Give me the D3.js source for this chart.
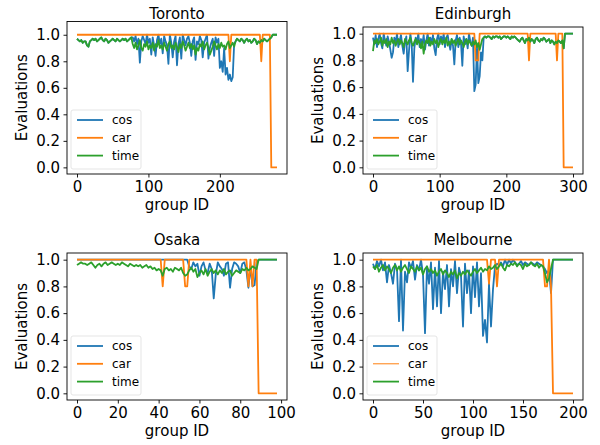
<!DOCTYPE html>
<html>
<head>
<meta charset="utf-8">
<script src="https://cdn.jsdelivr.net/npm/d3@7"></script>
<style>
  body { margin: 0; background: #fff; }
  svg { font-family: 'DejaVu Sans', sans-serif; }
</style>
</head>
<body>
<svg id="chart" width="600" height="445"></svg>
<script>
// ---------- data (one value per group ID, sampled every `step` ids) ----------

const torontoStep = 2;
const torontoTicks = [0, 100, 200];
const torontoTime = [
  0.97,0.96,0.95,0.96,0.94,0.95,0.95,0.92,0.91,0.95, 0.96,0.97,0.96,0.97,0.95,0.96,0.97,0.98,0.96,0.95,
  0.97,0.96,0.94,0.95,0.96,0.97,0.96,0.95,0.97,0.96, 0.95,0.96,0.97,0.96,0.97,0.95,0.96,0.97,0.98,
  0.93,0.90,0.94,0.89,0.92,0.96,0.90,0.88,0.93,0.91, 0.95,0.89,0.92,0.90,0.94,0.88,0.93,0.91,0.96,0.90,
  0.92,0.89,0.94,0.91,0.88,0.93,0.95,0.90,0.92,0.89, 0.94,0.91,0.87,0.93,0.90,0.95,0.92,0.88,0.91,0.94,
  0.90,0.93,0.89,0.92,0.85,0.90,0.88,0.93,0.91,0.95, 0.89,0.92,0.94,0.90,0.85,0.88,0.91,0.95,0.92,0.89,
  0.93,0.90,0.94,0.91,0.92,0.89,0.93,0.95,0.90,0.92, 0.94,0.91,
  0.95,0.97,0.96,0.95,0.97,0.96,0.94,0.96,0.97,0.95, 0.96,0.94,0.95,0.97,0.96,0.93,0.95,0.94,0.96,0.95,
  0.97,0.96,0.95,0.96,0.97,0.98,
  1,1,1,1
];
const torontoCos = [
  0.97,0.96,0.95,0.96,0.94,0.95,0.95,0.92,0.91,0.95, 0.96,0.97,0.96,0.97,0.95,0.96,0.97,0.98,0.96,0.95,
  0.97,0.96,0.94,0.95,0.96,0.97,0.96,0.95,0.97,0.96, 0.95,0.96,0.97,0.96,0.97,0.95,0.96,0.97,0.98,
  0.98,0.95,0.99,0.93,0.97,0.79,0.95,0.99,0.96,0.93, 1.00,0.94,0.97,0.85,0.98,0.92,0.84,0.96,1.00,0.93,
  0.97,0.86,0.99,0.95,0.92,0.78,1.00,0.94,0.83,0.95, 0.99,0.77,0.93,0.98,0.82,1.00,0.96,0.92,0.97,0.99,
  0.94,0.84,0.95,0.98,0.81,0.95,0.93,0.99,0.96,0.83, 0.94,0.97,1.00,0.82,0.90,0.94,0.97,0.84,0.98,0.94,
  0.97,0.75,0.80,0.72,0.90,0.70,0.75,0.66,0.70,0.65, 0.68,0.93,
  0.95,0.97,0.96,0.95,0.97,0.96,0.94,0.96,0.97,0.95, 0.96,0.94,0.95,0.97,0.96,0.93,0.95,0.94,0.96,0.95,
  0.97,0.96,0.95,0.96,0.97,0.98,
  1,1,1,1
];
const torontoCar = [
  1,1,1,1,1,1,1,1,1,1, 1,1,1,1,1,1,1,1,1,1,
  1,1,1,1,1,1,1,1,1,1, 1,1,1,1,1,1,1,1,1,1,
  1,1,1,1,1,1,1,1,1,1, 1,1,1,1,1,1,1,1,1,1,
  1,1,1,1,1,1,1,1,1,1, 1,1,1,1,1,1,1,1,1,1,
  1,1,1,1,1,1,1,1,1,1, 1,1,1,1,1,1,1,1,1,1,
  1,1,1,1,1,1,1, 0.8,
  1,1,1,1,1,1,1,1,1,1, 1,1,1,1,1,1,1,1,1,1, 1, 0.8,
  1,1,1,1,1,1, 0,0,0,0,0
];

const edinburghStep = 2;
const edinburghTicks = [0, 100, 200, 300];
const edinburghTime = [
  0.87,0.95,0.93,0.96,0.92,0.94,0.97,0.91,0.95,0.93, 0.96,0.90,0.94,0.92,0.97,0.93,0.95,0.91,0.94,0.96,
  0.92,0.95,0.93,0.90,0.96,0.94,0.92,0.95,0.97,0.93, 0.91,0.94,0.96,0.92,0.95,0.93,0.89,0.94,0.85,0.92,
  0.95,0.93,0.97,0.91,0.94,0.92,0.96,0.93,0.95,0.90, 0.94,0.96,0.92,0.95,0.93,0.97,0.91,0.94,0.92,0.96,
  0.93,0.95,0.91,0.94,0.96,0.92,0.95,0.93,0.90,0.94, 0.96,0.92,0.95,0.93,0.91,0.94,0.92,0.95,0.90,0.93,
  0.88,0.92,0.96,
  0.97,0.98,0.97,0.98,0.98,0.97,0.96,0.98,0.97,0.98, 0.98,0.97,0.98,0.96,0.97,0.98,0.98,0.97,0.98,0.97,
  0.96,0.98,0.97,0.98,0.97,
  0.96,0.95,0.94,0.96,0.97,0.95,0.93,0.96,0.95,0.97, 0.94,0.96,0.95,0.93,0.96,0.97,0.95,0.94,0.96,0.95,
  0.97,0.96,0.94,0.95,0.96,0.93,0.95,0.94,0.92,0.94, 0.93,0.95,0.94,0.93,0.95,
  0.89,
  1,1,1,1,1,1,1
];
const edinburghCos = [
  0.97,0.92,0.99,0.90,0.96,1.00,0.93,0.89,1.00,0.95, 0.91,0.98,0.94,0.88,0.82,0.86,0.97,0.93,1.00,0.90,
  0.95,0.99,0.91,0.85,0.94,0.98,0.72,0.87,1.00,0.93, 0.64,0.89,0.97,0.94,1.00,0.90,0.96,0.92,0.99,0.88,
  0.95,1.00,0.91,0.97,0.93,0.99,0.89,0.84,0.96,1.00, 0.92,0.98,0.94,1.00,0.90,0.97,0.99,0.93,0.88,0.96,
  0.91,0.77,0.95,0.99,0.90,0.97,0.93,0.76,0.98,0.92, 0.96,0.89,1.00,0.94,0.91,0.97,0.57,0.62,0.90,0.63,
  0.68,0.86,0.80,
  0.97,0.98,0.97,0.98,0.98,0.97,0.96,0.98,0.97,0.98, 0.98,0.97,0.98,0.96,0.97,0.98,0.98,0.97,0.98,0.97,
  0.96,0.98,0.97,0.98,0.97,
  0.96,0.95,0.94,0.96,0.97,0.95,0.93,0.96,0.95,0.97, 0.94,0.96,0.95,0.93,0.96,0.97,0.95,0.94,0.96,0.95,
  0.97,0.96,0.94,0.95,0.96,0.93,0.95,0.94,0.92,0.94, 0.93,0.95,0.94,0.93,0.95,
  0.89,
  1,1,1,1,1,1,1
];
const edinburghCar = [
  1,1,1,1,1,1,1,1,1,1, 1,1,1,1,1,1,1,1,1,1,
  1,1,1,1,1,1,1,1,1,1, 1,1,1,1,1,1,1,1,1,1,
  1,1,1,1,1,1,1,1,1,1, 1,1,1,1,1,1,1,1,1,1,
  1,1,1,1,1,1,1,1,1,1, 1,1,1,1,1,1,1, 0.8,0.8,0.8,
  1,1,1,1,1,1,1,1,1,1, 1,1,1,1,1,1,1,1,1,1,
  1,1,1,1,1,1,1,1,1,1, 1,1,1,1,1,1,1, 0.8,
  1,1,1,1,1,1,1,1,1,1, 1,1,1,1,1,1,1,1,1,1, 0.8,
  1,1,1,1, 0,0,0,0,0,0,0,0
];

const osakaStep = 1;
const osakaTicks = [0, 20, 40, 60, 80, 100];
const osakaTime = [
  0.96,0.97,0.98,0.97,0.97,0.96,0.97,0.98,0.96,0.94, 0.96,0.97,0.95,0.97,0.98,0.96,0.97,0.98,0.97,0.96,
  0.97,0.96,0.98,0.97,0.96,0.95,0.97,0.96,0.95,0.96, 0.95,0.96,0.94,0.95,0.96,0.94,0.95,0.93,0.94,0.92,
  0.93,0.92,0.88,0.93,0.94,0.92,0.93,0.91,0.94,0.93, 0.92,0.94,0.90,0.88,0.89,0.92,0.94,0.91,0.93,0.87,
  0.90,0.92,0.89,0.93,0.88,0.91,0.93,0.90,0.92,0.89, 0.92,0.90,0.93,0.89,0.91,0.92,0.88,0.90,0.92,0.91,
  0.90,0.93,0.92,0.94,0.92,0.93,0.95,0.94,0.93,1.00, 1,1,1,1,1,1,1,1,1
];
const osakaCos = [
  1,1,1,1,1,1,1,1,1,1, 1,1,1,1,1,1,1,1,1,1,
  1,1,1,1,1,1,1,1,1,1, 1,1,1,1,1,1,1,1,1,1,
  1,1,1,1,1,1,1,1,1,1, 1,1,1,
  1.00,1.00,0.95,0.93,0.98,0.95,0.97,
  0.88,0.95,0.98,0.92,0.90,0.97,0.93,0.71,0.89,0.98, 0.95,0.93,0.88,0.97,0.98,0.79,0.93,0.98,0.97,0.95,
  0.90,0.97,0.98,0.92,0.79,0.95,0.80,0.81,0.98,1.00, 1,1,1,1,1,1,1,1,1
];
const osakaCar = [
  1,1,1,1,1,1,1,1,1,1, 1,1,1,1,1,1,1,1,1,1,
  1,1,1,1,1,1,1,1,1,1, 1,1,1,1,1,1,1,1,1,1, 1,1, 0.8,
  1,1,1,1,1,1,1,1,1,1, 0.8,0.8,
  1,1,1,1,1,1,1,1,1,1, 1,1,1,1,1,1,1,1,1,1, 1,1,1,1,1,1,1,1,1,
  0.8,1,0.8,1,1,
  0,0,0,0,0,0,0,0,0,0
];

const melbourneStep = 2;
const melbourneTicks = [0, 50, 100, 150, 200];
const melbourneTime = [
  0.95,0.93,0.96,0.91,0.94,0.96,0.92,0.95,0.93,0.90, 0.94,0.96,0.92,0.95,0.91,0.94,0.96,0.93,0.90,0.95,
  0.93,0.91,0.95,0.92,0.94,0.89,0.93,0.95,0.91,0.93, 0.90,0.92,0.88,0.91,0.93,0.89,0.92,0.90,0.87,0.91,
  0.89,0.92,0.86,0.90,0.88,0.91,0.89,0.92,0.90,0.88, 0.91,0.93,0.90,0.92,0.94,0.91,0.93,0.92,0.95,0.93,
  0.94,0.96,0.93,0.95,0.97,0.94,0.92,0.96,0.95,0.97, 0.96,0.98,0.95,0.97,0.96,0.93,0.97,0.95,0.96,0.98,
  0.96,0.95,0.97,0.94,0.96,0.95,0.90,0.83,0.86,0.93, 1,1,1,1,1,1,1,1,1,1,1
];
const melbourneCos = [
  0.97,0.93,0.99,0.95,1.00,0.92,0.98,0.83,0.96,0.90, 0.82,0.97,0.93,0.54,1.00,0.47,0.91,0.83,0.98,0.94,
  0.99,0.85,0.96,0.92,1.00,0.89,0.45,0.95,0.82,0.98, 0.63,0.94,0.65,0.99,0.60,0.91,0.78,0.96,0.65,0.93,
  0.80,0.99,0.75,0.94,0.88,0.50,0.97,0.75,0.92,0.60, 0.95,0.72,0.98,0.65,0.90,0.43,0.55,0.38,0.82,0.50,
  0.78,0.95,0.97,0.96,0.98,0.95,1.00,0.96,1.00,0.97, 1.00,0.98,0.96,0.97,0.99,0.96,0.98,0.97,0.96,0.98,
  0.97,0.96,0.98,0.97,0.96,0.95,0.93,0.90,0.92,0.75, 1,1,1,1,1,1,1,1,1,1,1
];
const melbourneCar = [
  1,1,1,1,1,1,1,1,1,1, 1,1,1,1,1,1,1,1,1,1,
  1,1,1,1,1,1,1,1,1,1, 1,1,1,1,1,1,1,1,1,1,
  1,1,1,1,1,1,1,1,1,1, 1,1,1,1,1,1,1,1, 0.82,
  1,1,1, 0.8,
  1,1,1,1,1,1,1,1,1,1, 1,1,1,1,1,1,1,1,1,1, 1,1,1,
  0.8,0.8,1,0.8,
  0,0,0,0,0,0,0,0,0,0,0
];

const yTicks = [0, 0.2, 0.4, 0.6, 0.8, 1.0];
const seriesNames = ['cos', 'car', 'time'];
const colors = { cos: '#1f77b4', car: '#ff7f0e', time: '#2ca02c' };

// ---------- layout ----------
// Toronto's frame sits a little higher than the others (its y range runs to 1.1)
const W = 220;
const panels = [
  { title: 'Toronto', left: 67, top: 21.5, bottom: 174, titleY: 18.5, yMax: 1.1, step: torontoStep, ticks: torontoTicks,
    cos: torontoCos, car: torontoCar, time: torontoTime },
  { title: 'Edinburgh', left: 363, top: 27, bottom: 174, titleY: 18.5, yMax: 1.05, step: edinburghStep, ticks: edinburghTicks,
    cos: edinburghCos, car: edinburghCar, time: edinburghTime },
  { title: 'Osaka', left: 67, top: 253, bottom: 400, titleY: 244.5, yMax: 1.05, step: osakaStep, ticks: osakaTicks,
    cos: osakaCos, car: osakaCar, time: osakaTime },
  { title: 'Melbourne', left: 363, top: 253, bottom: 400, titleY: 244.5, yMax: 1.05, step: melbourneStep, ticks: melbourneTicks,
    cos: melbourneCos, car: melbourneCar, time: melbourneTime, thinCarKey: true }
];

const svg = d3.select('#chart');

function styleAxis(sel) {
  sel.attr('font-size', null).attr('font-family', null);
  sel.select('.domain').remove();
  sel.selectAll('line').attr('stroke', '#000').attr('stroke-width', 0.9);
  sel.selectAll('text').attr('fill', '#000').style('font-size', '15px');
}

panels.forEach((p) => {
  const H = p.bottom - p.top;
  const n = (p.time.length - 1) * p.step;
  const x = d3.scaleLinear().domain([-0.05 * n, 1.05 * n]).range([0, W]);
  const y = d3.scaleLinear().domain([-0.05, p.yMax]).range([H, 0]);

  // title, in page coordinates
  svg.append('text')
    .attr('x', p.left + W / 2).attr('y', p.titleY)
    .attr('text-anchor', 'middle')
    .style('font-size', '15px')
    .text(p.title);

  const g = svg.append('g').attr('transform', `translate(${p.left},${p.top})`);

  // lines, drawn in legend order so time ends up on top
  seriesNames.forEach((s) => {
    const line = d3.line()
      .x((d, i) => x(i * p.step))
      .y((d) => y(d));
    g.append('path')
      .datum(p[s])
      .attr('fill', 'none')
      .attr('stroke', colors[s])
      .attr('stroke-width', 1.8)
      .attr('stroke-linejoin', 'round')
      .attr('d', line);
  });

  // axes
  g.append('g')
    .attr('transform', `translate(0,${H})`)
    .call(d3.axisBottom(x).tickValues(p.ticks).tickSize(3.5).tickPadding(3.5).tickFormat(d3.format('d')))
    .call(styleAxis);
  g.append('g')
    .call(d3.axisLeft(y).tickValues(yTicks).tickSize(3.5).tickPadding(3.5).tickFormat(d3.format('.1f')))
    .call(styleAxis);

  g.append('rect')
    .attr('width', W).attr('height', H)
    .attr('fill', 'none').attr('stroke', '#000').attr('stroke-width', 0.9);

  g.append('text')
    .attr('x', W / 2).attr('y', H + 36)
    .attr('text-anchor', 'middle')
    .style('font-size', '15px')
    .text('group ID');
  g.append('text')
    .attr('transform', `translate(-40,${H / 2}) rotate(-90)`)
    .attr('text-anchor', 'middle')
    .style('font-size', '15px')
    .text('Evaluations');

  // legend (lower left)
  const lg = g.append('g').attr('transform', `translate(0,${H})`);
  lg.append('rect')
    .attr('x', 4).attr('y', -64).attr('width', 70).attr('height', 59).attr('rx', 2)
    .attr('fill', '#fff').attr('fill-opacity', 0.8)
    .attr('stroke', '#dedede').attr('stroke-width', 0.8);
  seriesNames.forEach((s, i) => {
    const ry = -54 + i * 17.8;
    lg.append('line')
      .attr('x1', 10).attr('x2', 36).attr('y1', ry).attr('y2', ry)
      .attr('stroke', colors[s])
      .attr('stroke-width', (p.thinCarKey && s === 'car') ? 1 : 1.8);
    lg.append('text')
      .attr('x', 45).attr('y', ry).attr('dy', '0.35em')
      .style('font-size', '12px')
      .text(s);
  });
});
</script>
</body>
</html>
